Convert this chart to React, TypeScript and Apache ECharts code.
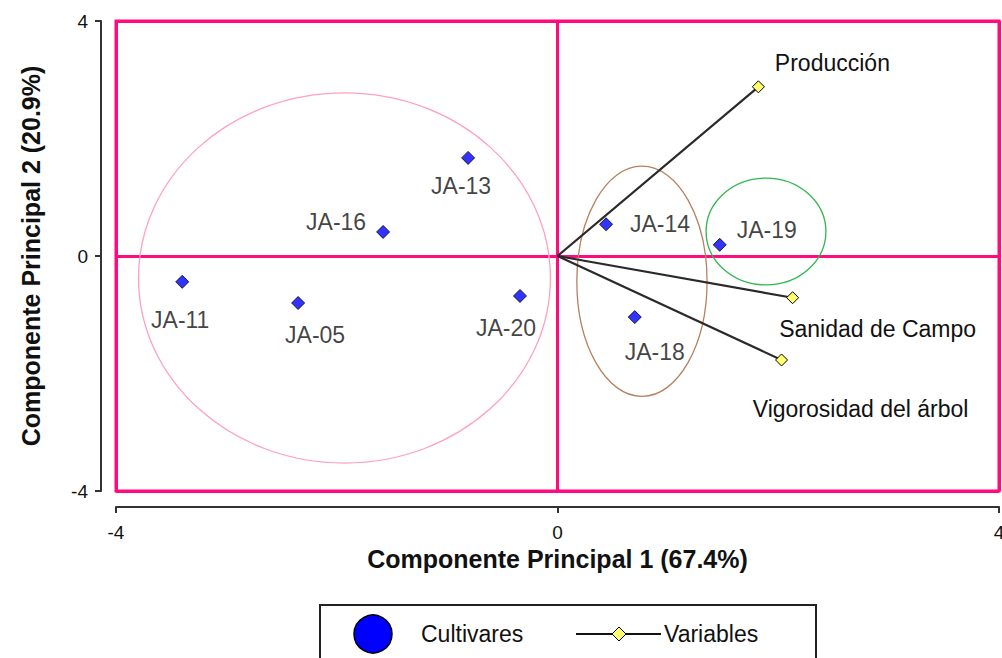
import React, { useEffect, useRef } from "react";
import * as echarts from "echarts";

// ---- data ----
const cultivarNames = ["JA-11", "JA-05", "JA-16", "JA-13", "JA-20", "JA-14", "JA-19", "JA-18"];
const cultivarPC1 = [-3.40, -2.35, -1.58, -0.81, -0.34, 0.44, 1.47, 0.70];
const cultivarPC2 = [-0.44, -0.80, 0.41, 1.67, -0.68, 0.54, 0.19, -1.04];

const variableNames = ["Producción", "Sanidad de Campo", "Vigorosidad del árbol"];
const variablePC1 = [1.82, 2.13, 2.03];
const variablePC2 = [2.88, -0.71, -1.77];

// groups (ellipses): center x, center y, radius x, radius y
const groupCx = [-1.93, 0.765, 1.889];
const groupCy = [-0.374, -0.43, 0.417];
const groupRx = [1.866, 0.59, 0.543];
const groupRy = [3.15, 1.96, 0.91];

const axisTicks = [-4, 0, 4];

// ---- styles ----
const PINK = "#ff0a7f";
const FONT = "Liberation Sans, Arial, sans-serif";
const groupColors = ["#ffa0c0", "#b8805e", "#2fb84e"];
const cultivarLabelOffsets: number[][] = [
  [-2, 38], [17, 32], [-47, -10], [-7, 28], [-14, 32], [54, 0], [47, -15], [20, 35],
];
const variableLabelOffsets: number[][] = [
  [74, -24], [85, 31], [79, 49],
];

export default function App() {
  const ref = useRef<HTMLDivElement>(null);
  useEffect(() => {
    if (!ref.current) return;
    const chart = echarts.init(ref.current, undefined, { renderer: "svg" });

    const labelBase = {
      show: true,
      position: "inside" as const,
      fontSize: 23,
      fontFamily: FONT,
      color: "#111",
      align: "center",
      verticalAlign: "middle",
    };

    const ellipseData = groupCx.map((cx, i) => [cx, groupCy[i], groupRx[i], groupRy[i], i]);

    const vectorSeries = variableNames.map((name, i) => ({
      type: "line",
      name: "Variables",
      z: 3,
      symbol: "diamond",
      symbolSize: 12,
      lineStyle: { color: "#2a2a2a", width: 2.2 },
      itemStyle: { color: "#ffff70", borderColor: "#000", borderWidth: 1 },
      data: [
        { value: [0, 0], symbol: "none", label: { show: false } },
        {
          value: [variablePC1[i], variablePC2[i]],
          name,
          label: { ...labelBase, formatter: name, offset: variableLabelOffsets[i] },
        },
      ],
    }));

    const axisCommon = {
      type: "value",
      min: axisTicks[0],
      max: axisTicks[axisTicks.length - 1],
      interval: 4,
      nameLocation: "middle",
      nameTextStyle: { fontSize: 25, fontWeight: "bold", fontFamily: FONT, color: "#111" },
      axisLine: { show: true, onZero: false, lineStyle: { color: "#333", width: 2 } },
      axisTick: { show: true, length: 6, lineStyle: { color: "#333", width: 2 } },
      axisLabel: { fontSize: 19, fontFamily: FONT, color: "#111" },
      splitLine: { show: true, lineStyle: { color: PINK, width: 3 } },
    };

    chart.setOption({
      animation: false,
      grid: {
        left: 116,
        right: 3,
        top: 21,
        bottom: 167,
        show: true,
        borderColor: PINK,
        borderWidth: 3,
        backgroundColor: "#fff",
        outerBoundsMode: "none",
        containLabel: false,
      },
      xAxis: {
        ...axisCommon,
        position: "bottom",
        offset: 16,
        name: "Componente Principal 1 (67.4%)",
        nameGap: 31,
        axisLabel: { ...axisCommon.axisLabel, margin: 16 },
      },
      yAxis: {
        ...axisCommon,
        position: "left",
        offset: 15,
        name: "Componente Principal 2 (20.9%)",
        nameGap: 58,
        axisLabel: { ...axisCommon.axisLabel, margin: 13 },
      },
      series: [
        {
          type: "custom",
          name: "Grupos",
          z: 2,
          silent: true,
          data: ellipseData,
          renderItem: (params: any, api: any) => {
            const c = api.coord([api.value(0), api.value(1)]);
            const s = api.size([api.value(2), api.value(3)]);
            const idx = api.value(4);
            return {
              type: "ellipse",
              shape: { cx: c[0], cy: c[1], rx: s[0], ry: s[1] },
              style: { fill: "none", stroke: groupColors[idx], lineWidth: 1.3 },
            };
          },
        },
        ...vectorSeries,
        {
          type: "scatter",
          name: "Cultivares",
          z: 4,
          symbol: "diamond",
          symbolSize: 13,
          itemStyle: { color: "#0000ff", borderColor: "#000", borderWidth: 1 },
          data: cultivarNames.map((name, i) => ({
            name,
            value: [cultivarPC1[i], cultivarPC2[i]],
            label: { ...labelBase, formatter: name, offset: cultivarLabelOffsets[i] },
          })),
        },
      ],
      graphic: [
        {
          type: "group",
          left: 319,
          top: 604,
          children: [
            {
              type: "rect",
              shape: { x: 0, y: 0, width: 496, height: 70 },
              style: { fill: "#fff", stroke: "#222", lineWidth: 2 },
            },
            {
              type: "circle",
              shape: { cx: 53, cy: 29, r: 19 },
              style: { fill: "#0000ff", stroke: "#000", lineWidth: 1.5 },
            },
            {
              type: "text",
              x: 101,
              y: 29,
              style: {
                text: "Cultivares",
                fontSize: 23,
                fontFamily: FONT,
                fill: "#111",
                verticalAlign: "middle",
              },
            },
            {
              type: "line",
              shape: { x1: 256, y1: 29, x2: 341, y2: 29 },
              style: { stroke: "#111", lineWidth: 2 },
            },
            {
              type: "polygon",
              shape: { points: [[299, 22], [306, 29], [299, 36], [292, 29]] },
              style: { fill: "#ffff70", stroke: "#000", lineWidth: 1 },
            },
            {
              type: "text",
              x: 344,
              y: 29,
              style: {
                text: "Variables",
                fontSize: 23,
                fontFamily: FONT,
                fill: "#111",
                verticalAlign: "middle",
              },
            },
          ],
        },
      ],
    });
    return () => chart.dispose();
  }, []);

  return (
    <div
      ref={ref}
      style={{ position: "absolute", left: 0, top: 0, width: 1002, height: 658, background: "#fff" }}
    />
  );
}
